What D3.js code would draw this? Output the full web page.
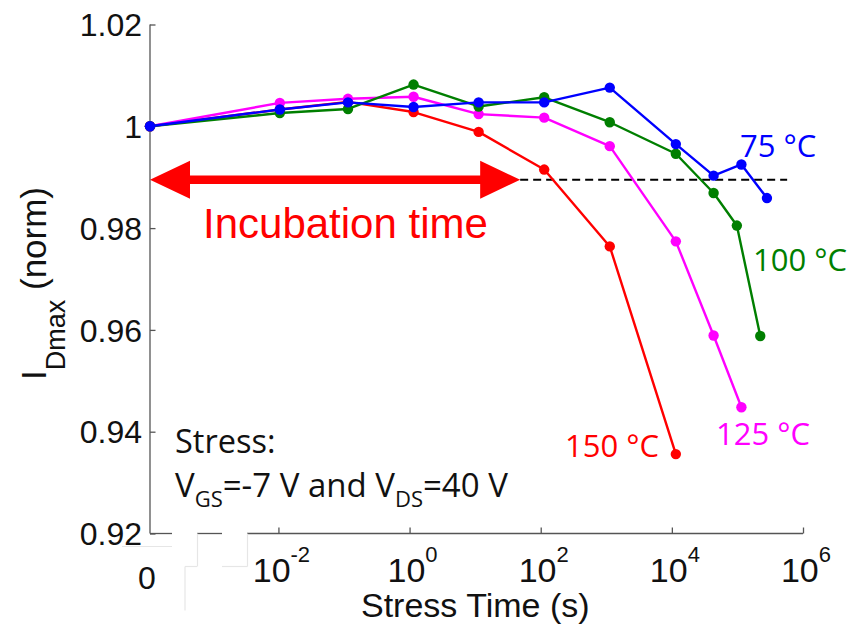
<!DOCTYPE html>
<html>
<head>
<meta charset="utf-8">
<script src="https://cdn.jsdelivr.net/npm/d3@7"></script>
<style>
  html, body { margin: 0; padding: 0; background: #fff; }
  svg { display: block; }
</style>
</head>
<body>
<svg id="chart" width="861" height="628"></svg>
<script>
// ---- data ----
const T0 = 1.1e-4; // position used for the "0" stress time
const timesCommon = [T0, 0.0105, 0.115, 1.15, 11.3, 113, 1130, 11500];

const time150 = timesCommon;
const val150 = [1.000, 1.0033, 1.0048, 1.0028, 0.9989, 0.9915, 0.9764, 0.9356];

const time125 = timesCommon.concat([43300, 115000]);
const val125 = [1.000, 1.0046, 1.0054, 1.0058, 1.0024, 1.0017, 0.9961, 0.9774, 0.9589, 0.9448];

const time100 = timesCommon.concat([43300, 98000, 223000]);
const val100 = [1.000, 1.0026, 1.0034, 1.0082, 1.0039, 1.0057, 1.0008, 0.9946, 0.9869, 0.9805, 0.9588];

const time75 = timesCommon.concat([43300, 115000, 282000]);
const val75 = [1.000, 1.0033, 1.0047, 1.0038, 1.0047, 1.0047, 1.0076, 0.9965, 0.9903, 0.9925, 0.9859];

const seriesNames = ["150 °C", "125 °C", "100 °C", "75 °C"];
const seriesColors = ["#ff0000", "#ff00ff", "#007f00", "#0000ff"];

const xTickValues = [1e-2, 1e0, 1e2, 1e4, 1e6];
const xTickExps = ["-2", "0", "2", "4", "6"];
const yTickValues = [0.92, 0.94, 0.96, 0.98, 1.00, 1.02];

const threshold = 0.9895;
const incubationEnd = 48.6;
const thresholdEnd = 573000;

// ---- scales ----
const svg = d3.select("#chart");
const x = d3.scaleLog().domain([T0, 1e6]).range([150, 803]);
const y = d3.scaleLinear().domain([0.92, 1.02]).range([533.5, 24.5]);

const axisColor = "#555";
const AX_FONT = "'Liberation Sans', Arial, sans-serif";
const ANN_FONT = "'Open Sans', 'Noto Sans', sans-serif";

// ---- y axis ----
const yAxis = d3.axisLeft(y).tickValues(yTickValues).tickSize(-5.5).tickPadding(8)
  .tickFormat(d => Math.abs(d - 1) < 1e-9 ? "1" : d.toFixed(2));
const gy = svg.append("g").attr("transform", "translate(150,0)").call(yAxis);
gy.select(".domain").remove();
gy.selectAll(".tick line").attr("stroke", axisColor).attr("stroke-width", 1.3);
gy.selectAll(".tick text").attr("font-family", AX_FONT).attr("font-size", 32)
  .attr("fill", "#111").attr("dy", "0.35em");
gy.append("line").attr("x1", 0).attr("x2", 0).attr("y1", y(1.02)).attr("y2", y(0.92))
  .attr("stroke", axisColor).attr("stroke-width", 1.3);

// ---- x axis ----
const xAxis = d3.axisBottom(x).tickValues(xTickValues).tickSize(-6).tickFormat("");
const gx = svg.append("g").attr("transform", `translate(0,${y(0.92)})`).call(xAxis);
gx.select(".domain").remove();
gx.selectAll(".tick line").attr("stroke", axisColor).attr("stroke-width", 1.3);
// axis line with the small breaks near the "0"
const xSegs = [[150, 172], [197, 222], [247, x(1e6)]];
gx.selectAll("line.seg").data(xSegs).enter().append("line").attr("class", "seg")
  .attr("x1", d => d[0]).attr("x2", d => d[1]).attr("y1", 0).attr("y2", 0)
  .attr("stroke", axisColor).attr("stroke-width", 1.3);
// faint pasted-box edges
const faint = [
  [122, 13, 172, 13], [185, 33, 197, 33], [185, 33, 185, 77], [197.5, 0, 197.5, 33],
  [222, 33, 247.5, 33], [247.5, 0, 247.5, 33]
];
gx.selectAll("line.faint").data(faint).enter().append("line").attr("class", "faint")
  .attr("x1", d => d[0]).attr("y1", d => d[1]).attr("x2", d => d[2]).attr("y2", d => d[3])
  .attr("stroke", "#e6e6e6").attr("stroke-width", 1.2);

// tick labels with superscripts
const xl = svg.append("g");
xTickValues.forEach((v, i) => {
  const t = xl.append("text").attr("x", x(v) + 3).attr("y", 582)
    .attr("text-anchor", "middle").attr("font-family", AX_FONT).attr("font-size", 34).attr("fill", "#111");
  t.append("tspan").text("10");
  t.append("tspan").attr("dy", -20).attr("font-size", 22).text(xTickExps[i]);
});
xl.append("text").attr("x", x(T0) - 3).attr("y", 589).attr("text-anchor", "middle")
  .attr("font-family", AX_FONT).attr("font-size", 32).attr("fill", "#111").text("0");

// axis titles
svg.append("text").attr("x", 361).attr("y", 617).attr("font-family", AX_FONT)
  .attr("font-size", 34).attr("fill", "#111").text("Stress Time (s)");
const yt = svg.append("text").attr("transform", "translate(46,380) rotate(-90)")
  .attr("font-family", AX_FONT).attr("font-size", 35).attr("fill", "#111");
yt.append("tspan").text("I");
yt.append("tspan").attr("dy", 19).attr("font-size", 27).text("Dmax");
yt.append("tspan").attr("dy", -19).text(" (norm)");

// ---- threshold + arrow ----
svg.append("line").attr("x1", x(incubationEnd)).attr("x2", x(thresholdEnd))
  .attr("y1", y(threshold)).attr("y2", y(threshold))
  .attr("stroke", "#000").attr("stroke-width", 2).attr("stroke-dasharray", "8,5");

const ay = y(threshold), ax0 = x(T0), ax1 = x(incubationEnd);
const headLen = 40, headHalf = 19, shaft = 4.2;
svg.append("path").attr("fill", "#ff0000").attr("d",
  `M${ax0},${ay} L${ax0 + headLen},${ay - headHalf} L${ax0 + headLen},${ay - shaft}
   L${ax1 - headLen},${ay - shaft} L${ax1 - headLen},${ay - headHalf} L${ax1},${ay}
   L${ax1 - headLen},${ay + headHalf} L${ax1 - headLen},${ay + shaft}
   L${ax0 + headLen},${ay + shaft} L${ax0 + headLen},${ay + headHalf} Z`);
svg.append("text").attr("x", 203).attr("y", 238).attr("font-family", AX_FONT)
  .attr("font-size", 42).attr("fill", "#ff0000").text("Incubation time");

// ---- series ----
const allSeries = [
  {t: time150, v: val150}, {t: time125, v: val125}, {t: time100, v: val100}, {t: time75, v: val75}
];
const line = d3.line().x(d => x(d[0])).y(d => y(d[1]));
allSeries.forEach((s, i) => {
  const pts = s.t.map((t, j) => [t, s.v[j]]);
  const g = svg.append("g");
  g.append("path").datum(pts).attr("d", line).attr("fill", "none")
    .attr("stroke", seriesColors[i]).attr("stroke-width", 2.4).attr("stroke-linejoin", "round");
  g.selectAll("circle").data(pts).enter().append("circle")
    .attr("cx", d => x(d[0])).attr("cy", d => y(d[1])).attr("r", 5.2)
    .attr("fill", seriesColors[i]);
});

// ---- series labels ----
const labelPos = [[565, 457], [716, 445], [753, 271], [740, 157]];
seriesNames.forEach((n, i) => {
  svg.append("text").attr("x", labelPos[i][0]).attr("y", labelPos[i][1])
    .attr("font-family", ANN_FONT).attr("font-size", 31).attr("fill", seriesColors[i]).text(n);
});

// ---- stress annotation ----
svg.append("text").attr("x", 175).attr("y", 453).attr("font-family", ANN_FONT)
  .attr("font-size", 32.5).attr("fill", "#111").text("Stress:");
const st = svg.append("text").attr("x", 175).attr("y", 497).attr("font-family", ANN_FONT)
  .attr("font-size", 33).attr("fill", "#111");
st.append("tspan").text("V");
st.append("tspan").attr("dy", 10).attr("font-size", 22).text("GS");
st.append("tspan").attr("dy", -10).text("=-7 V and V");
st.append("tspan").attr("dy", 10).attr("font-size", 22).text("DS");
st.append("tspan").attr("dy", -10).text("=40 V");
</script>
</body>
</html>
